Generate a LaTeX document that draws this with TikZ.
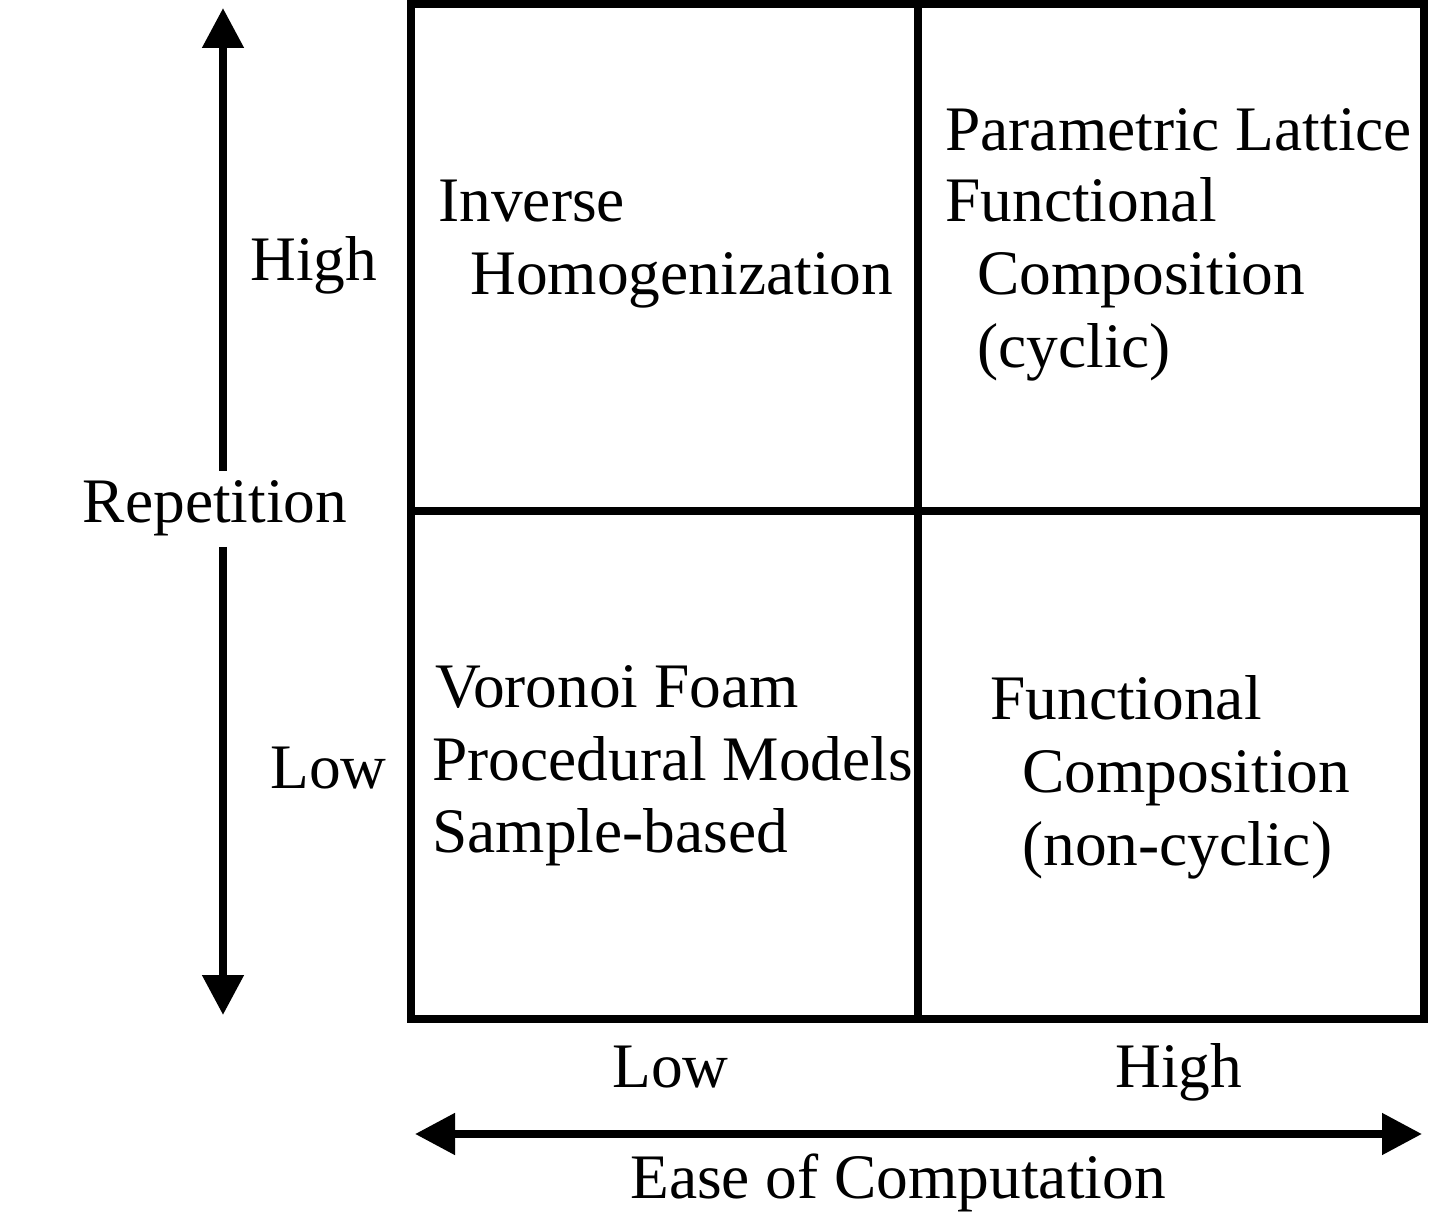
\documentclass[tikz,border=0pt]{standalone}
\usepackage{fontspec}
\setmainfont{Liberation Serif}
\usetikzlibrary{arrows.meta}

\begin{document}
\begin{tikzpicture}[
    x=0.5pt,
    y=-0.5pt,
    >={Triangle[length=20pt,width=20pt]},
    every node/.style={font=\fontsize{31.7}{37}\selectfont, inner sep=0pt},
    lbl/.style={anchor=base west},
    frame/.style={line width=4pt},
    axis/.style={line width=4pt}
]
    \useasboundingbox (0,0) rectangle (1431,1224);

    % quadrant frame
    \draw[frame] (411,4) rectangle (1424,1019);
    \draw[frame] (918,4) -- (918,1019);
    \draw[frame] (411,511) -- (1424,511);

    % vertical axis
    \node[anchor=base, inner sep=5pt] (rep) at (215,523) {Repetition};
    \coordinate (repTop) at (223,8);
    \coordinate (repBot) at (223,1015);
    \draw[axis, ->] (rep.north -| repTop) -- (repTop);
    \draw[axis, ->] (rep.south -| repBot) -- (repBot);
    \node[lbl] (repHigh) at (250,281) {High};
    \node[lbl] (repLow) at (270,789) {Low};

    % horizontal axis
    \coordinate (easeL) at (415,1134);
    \coordinate (easeR) at (1422,1134);
    \draw[axis, <->] (easeL) -- (easeR);
    \node[lbl] (easeLow) at (612,1087) {Low};
    \node[lbl] (easeHigh) at (1115,1087) {High};
    \node[lbl] (ease) at (630,1198) {Ease of Computation};

    % top left
    \node[lbl] (inv) at (438,222) {Inverse};
    \node[lbl] (hom) at (470,295) {Homogenization};

    % top right
    \node[lbl] (lat) at (945,151) {Parametric Lattice};
    \node[lbl] (fun) at (945,222) {Functional};
    \node[lbl] (com) at (977,295) {Composition};
    \node[lbl] (cyc) at (977,368) {(cyclic)};

    % bottom left
    \node[lbl] (vor) at (435,708) {Voronoi Foam};
    \node[lbl] (pro) at (432,781) {Procedural Models};
    \node[lbl] (sam) at (432,853) {Sample-based};

    % bottom right
    \node[lbl] (nfun) at (990,720) {Functional};
    \node[lbl] (ncom) at (1022,793) {Composition};
    \node[lbl] (ncyc) at (1022,866) {(non-cyclic)};
\end{tikzpicture}
\end{document}
